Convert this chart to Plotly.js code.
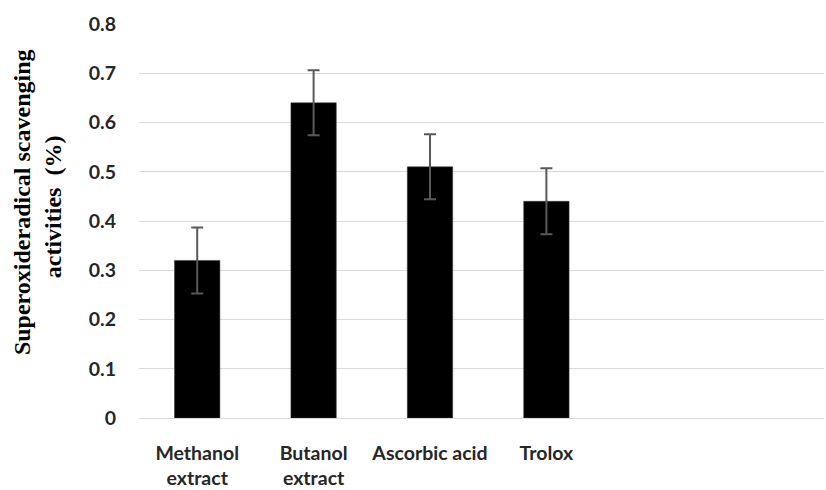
<!DOCTYPE html>
<html>
<head>
<meta charset="utf-8">
<script src="https://cdn.plot.ly/plotly-3.0.1.min.js"></script>
<style>html,body{margin:0;padding:0;background:#fff;}#chart{width:826px;height:490px;}</style>
</head>
<body>
<div id="chart"></div>
<script>
const categories = ["Methanol<br>extract", "Butanol<br>extract", "Ascorbic acid", "Trolox"];
const values = [0.32, 0.64, 0.51, 0.44];
const errors = [0.067, 0.066, 0.066, 0.067];
const yTitleLines = ["Superoxideradical scavenging", "activities&nbsp;&nbsp;(%)"];

const trace = {
  type: 'bar',
  x: categories,
  y: values,
  marker: {color: '#000000', line: {color: '#3a3a3a', width: 0.5}},
  error_y: {type: 'data', array: errors, visible: true, color: '#595959', thickness: 2, width: 6},
  width: 0.39,
  hoverinfo: 'none'
};

const tickFont = {family: 'Lato, "Open Sans", sans-serif', size: 19.5, color: '#262626', weight: 'bold'};
const titleFont = {family: '"Liberation Serif", "Times New Roman", serif', size: 24, color: '#000', weight: 'bold'};

const layout = {
  width: 826, height: 490,
  margin: {l: 139, r: 2, t: 24, b: 72},
  paper_bgcolor: '#ffffff', plot_bgcolor: '#ffffff',
  showlegend: false,
  xaxis: {
    type: 'category',
    range: [-0.5, 5.385],
    showgrid: false, showline: false, zeroline: false, ticks: '',
    tickfont: tickFont,
    ticklabelstandoff: 21
  },
  yaxis: {
    range: [0, 0.8], dtick: 0.1, tick0: 0,
    showgrid: true, gridcolor: '#d9d9d9', gridwidth: 1,
    zeroline: true, zerolinecolor: '#d9d9d9', zerolinewidth: 1,
    showline: false, ticks: '',
    tickfont: tickFont,
    ticklabelstandoff: 22
  },
  annotations: [
    {text: yTitleLines[0], xref: 'paper', yref: 'paper', x: 0, y: 0.548, xshift: -117,
     xanchor: 'center', yanchor: 'middle', textangle: -90, showarrow: false, font: titleFont},
    {text: yTitleLines[1], xref: 'paper', yref: 'paper', x: 0, y: 0.535, xshift: -86,
     xanchor: 'center', yanchor: 'middle', textangle: -90, showarrow: false, font: titleFont}
  ]
};

Plotly.newPlot('chart', [trace], layout, {staticPlot: true, displayModeBar: false});
</script>
</body>
</html>
